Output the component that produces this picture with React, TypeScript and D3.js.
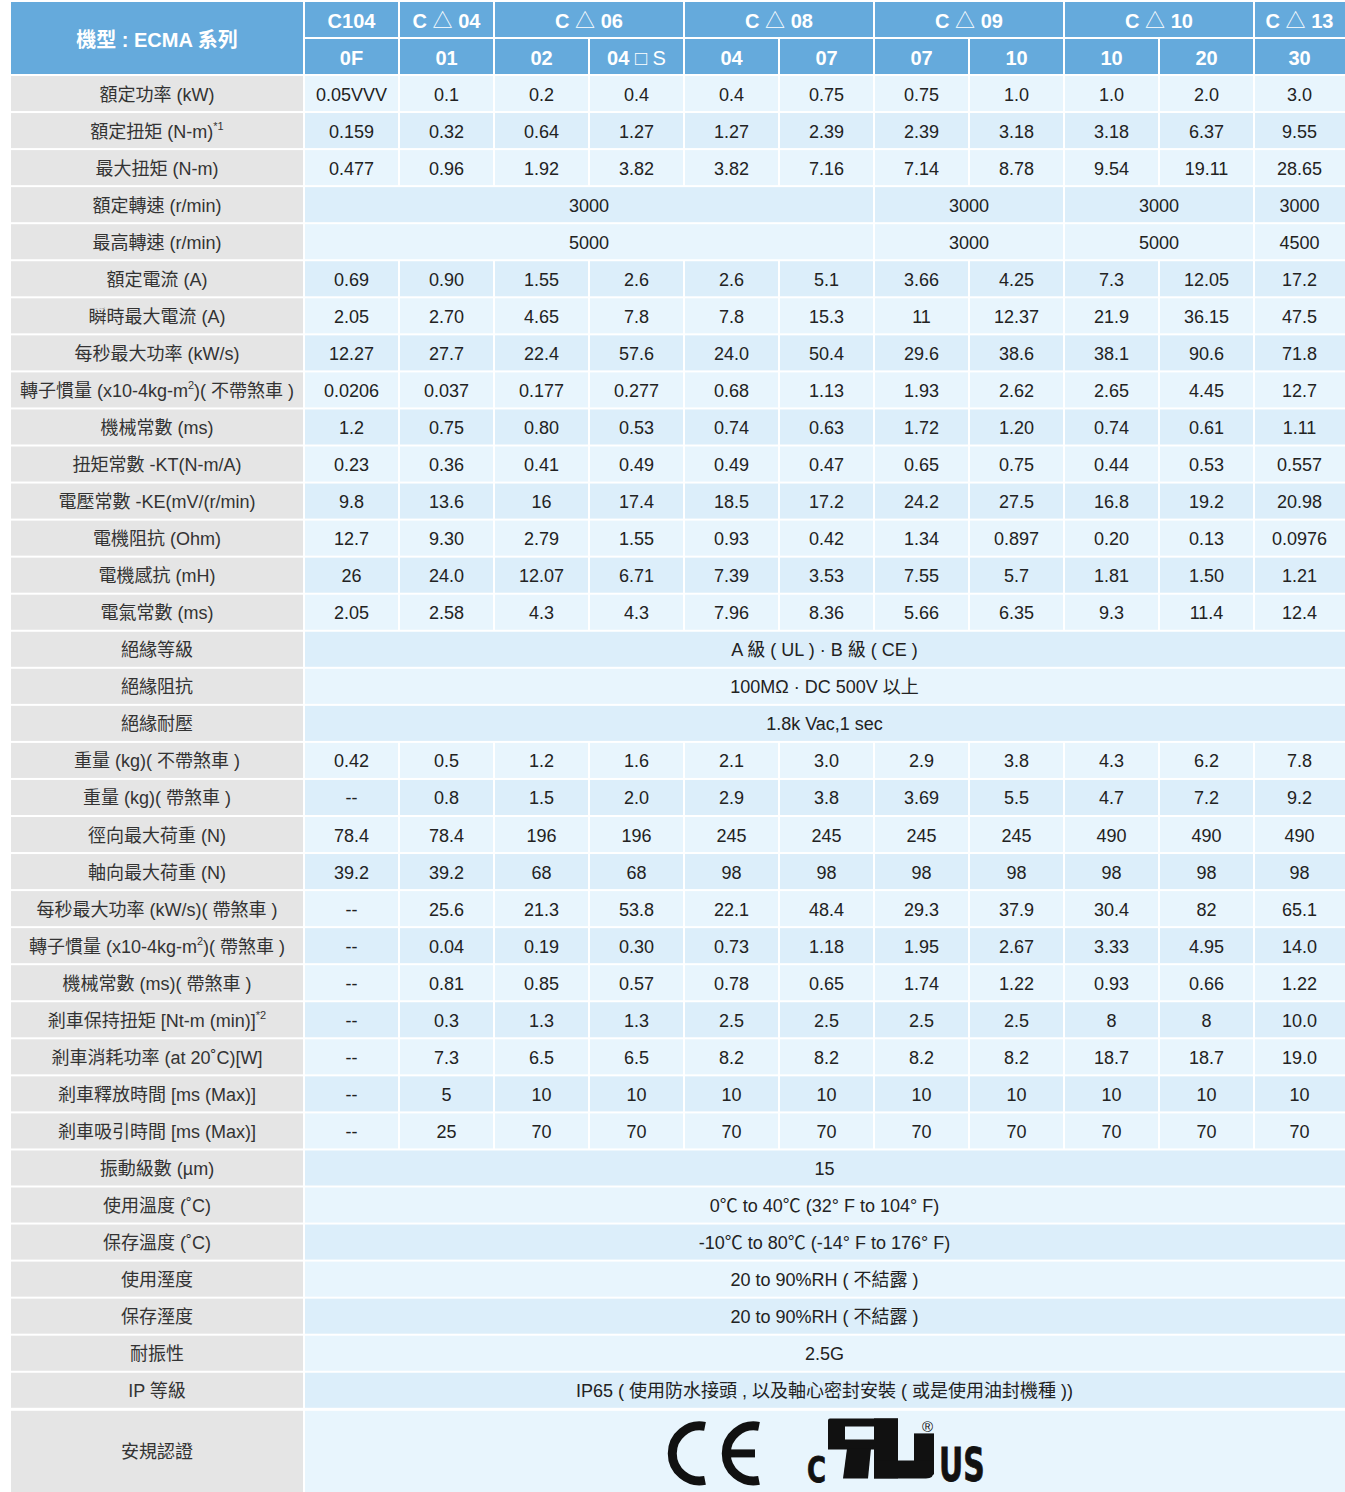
import React from "react";
import * as d3 from "d3";

// header
const groupNames = ["C104", "C△04", "C△06", "C△08", "C△09", "C△10", "C△13"];
const groupSpans = [1, 1, 2, 2, 2, 2, 1];
const subNames = ["0F", "01", "02", "04□S", "04", "07", "07", "10", "10", "20", "30"];

// rows (string[] = one value per column, [text, span][] = merged cells)
const ratedPower = ["0.05VVV", "0.1", "0.2", "0.4", "0.4", "0.75", "0.75", "1.0", "1.0", "2.0", "3.0"];
const ratedTorque = ["0.159", "0.32", "0.64", "1.27", "1.27", "2.39", "2.39", "3.18", "3.18", "6.37", "9.55"];
const maxTorque = ["0.477", "0.96", "1.92", "3.82", "3.82", "7.16", "7.14", "8.78", "9.54", "19.11", "28.65"];
const ratedSpeed: [string, number][] = [["3000", 6], ["3000", 2], ["3000", 2], ["3000", 1]];
const maxSpeed: [string, number][] = [["5000", 6], ["3000", 2], ["5000", 2], ["4500", 1]];
const ratedCurrent = ["0.69", "0.90", "1.55", "2.6", "2.6", "5.1", "3.66", "4.25", "7.3", "12.05", "17.2"];
const peakCurrent = ["2.05", "2.70", "4.65", "7.8", "7.8", "15.3", "11", "12.37", "21.9", "36.15", "47.5"];
const powerRate = ["12.27", "27.7", "22.4", "57.6", "24.0", "50.4", "29.6", "38.6", "38.1", "90.6", "71.8"];
const inertia = ["0.0206", "0.037", "0.177", "0.277", "0.68", "1.13", "1.93", "2.62", "2.65", "4.45", "12.7"];
const mechConst = ["1.2", "0.75", "0.80", "0.53", "0.74", "0.63", "1.72", "1.20", "0.74", "0.61", "1.11"];
const kt = ["0.23", "0.36", "0.41", "0.49", "0.49", "0.47", "0.65", "0.75", "0.44", "0.53", "0.557"];
const ke = ["9.8", "13.6", "16", "17.4", "18.5", "17.2", "24.2", "27.5", "16.8", "19.2", "20.98"];
const resistance = ["12.7", "9.30", "2.79", "1.55", "0.93", "0.42", "1.34", "0.897", "0.20", "0.13", "0.0976"];
const inductance = ["26", "24.0", "12.07", "6.71", "7.39", "3.53", "7.55", "5.7", "1.81", "1.50", "1.21"];
const elecConst = ["2.05", "2.58", "4.3", "4.3", "7.96", "8.36", "5.66", "6.35", "9.3", "11.4", "12.4"];
const weight = ["0.42", "0.5", "1.2", "1.6", "2.1", "3.0", "2.9", "3.8", "4.3", "6.2", "7.8"];
const weightBrake = ["--", "0.8", "1.5", "2.0", "2.9", "3.8", "3.69", "5.5", "4.7", "7.2", "9.2"];
const radialLoad = ["78.4", "78.4", "196", "196", "245", "245", "245", "245", "490", "490", "490"];
const axialLoad = ["39.2", "39.2", "68", "68", "98", "98", "98", "98", "98", "98", "98"];
const powerRateBrake = ["--", "25.6", "21.3", "53.8", "22.1", "48.4", "29.3", "37.9", "30.4", "82", "65.1"];
const inertiaBrake = ["--", "0.04", "0.19", "0.30", "0.73", "1.18", "1.95", "2.67", "3.33", "4.95", "14.0"];
const mechConstBrake = ["--", "0.81", "0.85", "0.57", "0.78", "0.65", "1.74", "1.22", "0.93", "0.66", "1.22"];
const brakeTorque = ["--", "0.3", "1.3", "1.3", "2.5", "2.5", "2.5", "2.5", "8", "8", "10.0"];
const brakePower = ["--", "7.3", "6.5", "6.5", "8.2", "8.2", "8.2", "8.2", "18.7", "18.7", "19.0"];
const brakeRelease = ["--", "5", "10", "10", "10", "10", "10", "10", "10", "10", "10"];
const brakePull = ["--", "25", "70", "70", "70", "70", "70", "70", "70", "70", "70"];
const full = (s: string): [string, number][] => [[s, 11]];

const rowLabels = [
  "額定功率 (kW)",
  "額定扭矩 (N-m)^*1",
  "最大扭矩 (N-m)",
  "額定轉速 (r/min)",
  "最高轉速 (r/min)",
  "額定電流 (A)",
  "瞬時最大電流 (A)",
  "每秒最大功率 (kW/s)",
  "轉子慣量 (x10-4kg-m^2^)( 不帶煞車 )",
  "機械常數 (ms)",
  "扭矩常數 -KT(N-m/A)",
  "電壓常數 -KE(mV/(r/min)",
  "電機阻抗 (Ohm)",
  "電機感抗 (mH)",
  "電氣常數 (ms)",
  "絕緣等級",
  "絕緣阻抗",
  "絕緣耐壓",
  "重量 (kg)( 不帶煞車 )",
  "重量 (kg)( 帶煞車 )",
  "徑向最大荷重 (N)",
  "軸向最大荷重 (N)",
  "每秒最大功率 (kW/s)( 帶煞車 )",
  "轉子慣量 (x10-4kg-m^2^)( 帶煞車 )",
  "機械常數 (ms)( 帶煞車 )",
  "剎車保持扭矩 [Nt-m (min)]^*2",
  "剎車消耗功率 (at 20˚C)[W]",
  "剎車釋放時間 [ms (Max)]",
  "剎車吸引時間 [ms (Max)]",
  "振動級數 (µm)",
  "使用溫度 (˚C)",
  "保存溫度 (˚C)",
  "使用溼度",
  "保存溼度",
  "耐振性",
  "IP 等級",
  "安規認證",
];

const rowValues: (string[] | [string, number][])[] = [
  ratedPower, ratedTorque, maxTorque, ratedSpeed, maxSpeed, ratedCurrent, peakCurrent,
  powerRate, inertia, mechConst, kt, ke, resistance, inductance, elecConst,
  full("A 級 ( UL ) · B 級 ( CE )"),
  full("100MΩ  · DC 500V 以上"),
  full("1.8k Vac,1 sec"),
  weight, weightBrake, radialLoad, axialLoad, powerRateBrake, inertiaBrake, mechConstBrake,
  brakeTorque, brakePower, brakeRelease, brakePull,
  full("15"),
  full("0℃ to 40℃ (32° F to 104° F)"),
  full("-10℃ to 80℃ (-14° F to 176° F)"),
  full("20 to 90%RH ( 不結露 )"),
  full("20 to 90%RH ( 不結露 )"),
  full("2.5G"),
  full("IP65 ( 使用防水接頭 , 以及軸心密封安裝 ( 或是使用油封機種 ))"),
  full(""),
];

const W = 1345;
const H = 1492;
const FONT = "'Liberation Sans', Arial, 'Noto Sans CJK TC', sans-serif";
const LOGO_FONT = "'DejaVu Sans Condensed', 'DejaVu Sans', sans-serif";
const BLUE = "#65aadc";
const GRAY = "#e5e5e5";
const LIGHT = "#e8f5fd";
const DARK = "#dceefa";

const x = d3.scaleLinear().domain([0, 11]).range([304, 1349]);
const nRows = 36; // the last row (安規認證) is taller
const y = d3.scaleLinear().domain([0, nRows]).range([75, 75 + nRows * 37.05]);
const labelX0 = 11;
const labelX1 = 303;

// scaled text helper for the logo letters
const Stretch = ({ tx, ty, sx, size, children, ...rest }: any) => (
  <text transform={`translate(${tx},${ty}) scale(${sx},1)`} fontSize={size} {...rest}>
    {children}
  </text>
);

// recognized-component mark (reversed R + U), drawn in a 106x60 box
const URMark = ({ tx, ty }: { tx: number; ty: number }) => (
  <g transform={`translate(${tx},${ty})`} fill="#111">
    <path d="M0,2 Q0,0 2,0 H70 V31 H0 Z M17,8 V21 H46 V8 Z" fillRule="evenodd" />
    <rect x={46} y={0} width={24} height={60} />
    <path d="M19,30 H43 L40,60 H15 Z" />
    <rect x={86} y={15} width={20} height={41} />
    <path d="M46,42 H106 V52 Q106,60 98,60 H46 Z" />
  </g>
);

const Logos = ({ cy }: { cy: number }) => (
  <g fill="#111" stroke="#111">
    {/* CE */}
    <path d={`M705,${cy - 27} A27.5,27.5 0 1 0 705,${cy + 27}`} fill="none" strokeWidth={9} />
    <path d={`M759,${cy - 27} A27.5,27.5 0 1 0 759,${cy + 27}`} fill="none" strokeWidth={9} />
    <line x1={728} x2={755} y1={cy} y2={cy} strokeWidth={8} />
    {/* cURus */}
    <g fontFamily={LOGO_FONT} fontWeight="bold">
      <Stretch tx={807} ty={1482} sx={0.8} size={36} strokeWidth={0.8}>C</Stretch>
      <Stretch tx={939} ty={1480.5} sx={0.72} size={46} strokeWidth={0.8}>US</Stretch>
    </g>
    <g stroke="none">
      <URMark tx={828} ty={cy - 35} />
    </g>
    <text x={922} y={cy - 21} fontSize={15} fontFamily={FONT} stroke="none">®</text>
  </g>
);

const Label = ({ text, cx, cy }: { text: string; cx: number; cy: number }) => {
  const parts = text.split("^");
  return (
    <text x={cx} y={cy + 7} textAnchor="middle" fontSize={18} fill="#333">
      {parts.map((p, k) =>
        k % 2 ? (
          <tspan key={k} fontSize={11} dy={-8}>{p}</tspan>
        ) : k > 0 ? (
          <tspan key={k} dy={8}>{p}</tspan>
        ) : (
          <tspan key={k}>{p}</tspan>
        )
      )}
    </text>
  );
};

const HeaderText = ({ text, cx, cy }: { text: string; cx: number; cy: number }) => {
  // keep the triangle / box glyphs thin like the original
  const m = text.match(/^([^△□]*)([△□])(.*)$/);
  return (
    <text x={cx} y={cy + 7} textAnchor="middle" fontSize={20} fontWeight="bold" fill="#fff">
      {m ? (
        <>
          <tspan>{m[1] + " "}</tspan>
          <tspan fontWeight="normal">{m[2]}</tspan>
          <tspan fontWeight={m[2] === "□" ? "normal" : "bold"}>{" " + m[3]}</tspan>
        </>
      ) : (
        text
      )}
    </text>
  );
};

export default function App() {
  const rows = rowLabels.map((label, i) => {
    const v = rowValues[i];
    const cells: [string, number][] =
      typeof v[0] === "string" ? (v as string[]).map((s) => [s, 1] as [string, number]) : (v as [string, number][]);
    let c = 0;
    const placed = cells.map(([t, span]) => {
      const start = c;
      c += span;
      return { t, start, span };
    });
    const top = i < nRows ? y(i) + 1 : y(nRows) + 2;
    const bottom = i < nRows ? y(i + 1) - 1 : H;
    return { label, placed, top, bottom, fill: i % 2 === 0 ? LIGHT : DARK };
  });

  let gc = 0;
  const groups = groupNames.map((g, i) => {
    const start = gc;
    gc += groupSpans[i];
    return { g, start, span: groupSpans[i] };
  });

  return (
    <svg
      width={W}
      height={H}
      style={{ position: "absolute", left: 0, top: 0, display: "block", background: "#fff" }}
      fontFamily={FONT}
    >
      {/* header */}
      <rect x={labelX0} y={2} width={labelX1 - labelX0} height={72} fill={BLUE} />
      <HeaderText text="機型 : ECMA 系列" cx={(labelX0 + labelX1) / 2} cy={39.5} />
      {groups.map((d) => (
        <g key={"g" + d.start}>
          <rect x={x(d.start) + 1} y={2} width={x(d.start + d.span) - x(d.start) - 2} height={35} fill={BLUE} />
          <HeaderText text={d.g} cx={(x(d.start) + x(Math.min(d.start + d.span, 11))) / 2 - (d.start === 10 ? 2 : 0)} cy={20.5} />
        </g>
      ))}
      {subNames.map((s, i) => (
        <g key={"s" + i}>
          <rect x={x(i) + 1} y={39} width={x(i + 1) - x(i) - 2} height={35} fill={BLUE} />
          <HeaderText text={s} cx={(x(i) + x(i + 1)) / 2 - (i === 10 ? 2 : 0)} cy={57.5} />
        </g>
      ))}

      {/* body */}
      {rows.map((r, i) => {
        const cy = (r.top + r.bottom) / 2;
        return (
          <g key={"r" + i}>
            <rect x={labelX0} y={r.top} width={labelX1 - labelX0} height={r.bottom - r.top} fill={GRAY} />
            <Label text={r.label} cx={(labelX0 + labelX1) / 2} cy={cy} />
            {r.placed.map((c) => (
              <g key={c.start}>
                <rect
                  x={x(c.start) + 1}
                  y={r.top}
                  width={x(c.start + c.span) - x(c.start) - 2}
                  height={r.bottom - r.top}
                  fill={r.fill}
                />
                <text
                  x={(x(c.start) + x(c.start + c.span)) / 2 - (c.start + c.span === 11 ? 2 : 0)}
                  y={cy + 7}
                  textAnchor="middle"
                  fontSize={18}
                  fill="#222"
                >
                  {c.t}
                </text>
              </g>
            ))}
            {i === rowLabels.length - 1 && <Logos cy={cy + 2} />}
          </g>
        );
      })}
    </svg>
  );
}
